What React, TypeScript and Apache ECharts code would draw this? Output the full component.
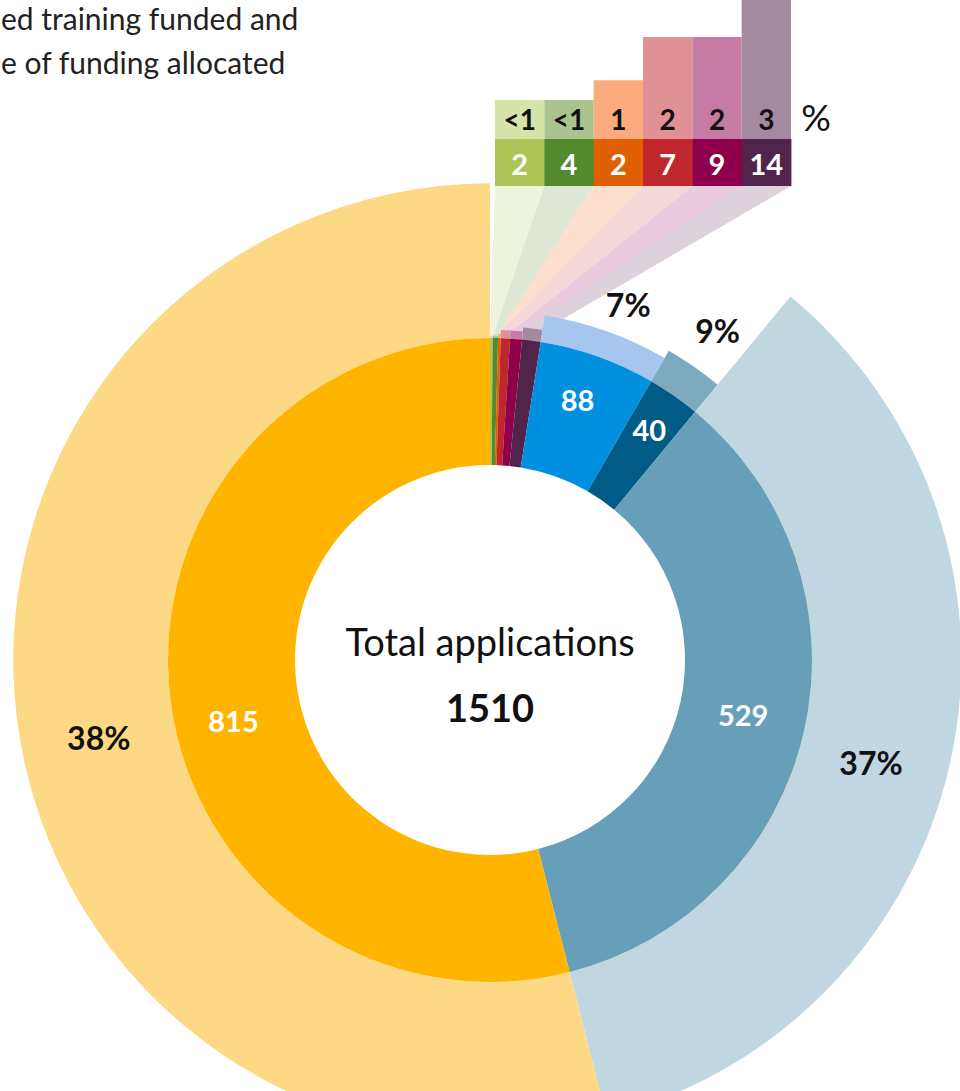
import React, { useEffect, useRef } from "react";
import * as echarts from "echarts";

// ---------- data ----------
const segments = [
  "Group 1", "Group 2", "Group 3", "Group 4", "Group 5", "Group 6",
  "Group 7", "Group 8", "Group 9", "Group 10",
];
const applications = [2, 4, 2, 7, 9, 14, 88, 40, 529, 815];
const fundingPct = [0.5, 0.6, 1.15, 2.0, 2.0, 3.0, 6.6, 8.7, 36.9, 38.2];
const innerColors = [
  "#afc457", "#538a2e", "#e05f00", "#c0272d", "#8e004b", "#51244c",
  "#0090df", "#005c86", "#669fb7", "#ffb500",
];
const outerColors = [
  "#d6e3a9", "#aac48f", "#fbab7d", "#e09194", "#c57ba4", "#a4899f",
  "#a6c6ef", "#7eaabf", "#c0d6e0", "#fdd985",
];
const fanColors = ["#eef3dd", "#dfe6d4", "#fedfcd", "#f3d7d9", "#eacbdd", "#ddd2db"];
const titleLines = ["ed training funded and", "e of funding allocated"];
const centerTitle = "Total applications";
const TABLE_COUNT = 6;

// ---------- layout ----------
const W = 960;
const H = 1091;
const CX = 490;
const CY = 660;
const R_HOLE = 195;
const R_RING = 322;
const RING_PX_PER_PCT = 4.05;
const TABLE_LEFT = 495;
const TABLE_RIGHT = 791;
const COUNT_TOP = 139;
const COUNT_BOTTOM = 186;
const BAR_PX_PER_PCT = 51;
const PCT_CELL_H = 39;
const FONT = "Lato";

const innerShift: Record<number, [number, number]> = {
  6: [0, -14],
  7: [10, -16],
  8: [-2, -3],
  9: [3, 28],
};
const outerShift: Record<number, [number, number]> = {
  6: [25, -37],
  7: [32, -48],
  8: [-9, 15],
  9: [8, 27],
};

export default function App() {
  const ref = useRef<HTMLDivElement>(null);

  useEffect(() => {
    if (!ref.current) return;
    const chart = echarts.init(ref.current, undefined, { renderer: "svg" });

    const total = applications.reduce((a, b) => a + b, 0);
    const cum: number[] = [0];
    applications.forEach((v) => cum.push(cum[cum.length - 1] + v));
    const ang = (k: number) => (cum[k] / total) * Math.PI * 2;
    const pt = (a: number, r: number) => [CX + r * Math.sin(a), CY - r * Math.cos(a)];
    const colW = (TABLE_RIGHT - TABLE_LEFT) / TABLE_COUNT;

    const graphics: any[] = [];
    // fans connecting ring to table
    for (let i = 0; i < TABLE_COUNT; i++) {
      const rOut = R_RING + RING_PX_PER_PCT * fundingPct[i] - 1;
      const a0 = ang(i);
      const a1 = ang(i + 1);
      graphics.push({
        type: "polygon",
        silent: true,
        z: 0,
        shape: {
          points: [
            [TABLE_LEFT + i * colW, COUNT_BOTTOM],
            [TABLE_LEFT + (i + 1) * colW, COUNT_BOTTOM],
            pt(a1, rOut),
            pt(a0, rOut),
          ],
        },
        style: { fill: fanColors[i] },
      });
    }
    // count row
    for (let i = 0; i < TABLE_COUNT; i++) {
      graphics.push({
        type: "rect",
        silent: true,
        z: 1,
        shape: { x: TABLE_LEFT + i * colW, y: COUNT_TOP, width: colW + 0.4, height: COUNT_BOTTOM - COUNT_TOP },
        style: { fill: innerColors[i] },
      });
      graphics.push({
        type: "text",
        silent: true,
        z: 2,
        x: TABLE_LEFT + (i + 0.5) * colW,
        y: (COUNT_TOP + COUNT_BOTTOM) / 2 + 1,
        style: {
          text: String(applications[i]),
          fill: "#ffffff",
          fontFamily: FONT,
          fontWeight: "bold",
          fontSize: 29,
          align: "center",
          verticalAlign: "middle",
        },
      });
    }
    graphics.push({
      type: "text",
      silent: true,
      x: 816,
      y: 116,
      style: { text: "%", fill: "#111", fontFamily: FONT, fontSize: 37, align: "center", verticalAlign: "middle" },
    });
    // title
    graphics.push({
      type: "text",
      silent: true,
      x: 1,
      y: 18,
      style: { text: titleLines[0], fill: "#222", fontFamily: FONT, fontSize: 30, align: "left", verticalAlign: "middle" },
    });
    graphics.push({
      type: "text",
      silent: true,
      x: 1,
      y: 62,
      style: { text: titleLines[1], fill: "#222", fontFamily: FONT, fontSize: 30, align: "left", verticalAlign: "middle" },
    });
    // centre
    graphics.push({
      type: "text",
      silent: true,
      x: CX,
      y: 641,
      style: { text: centerTitle, fill: "#111", fontFamily: FONT, fontSize: 38, align: "center", verticalAlign: "middle" },
    });
    graphics.push({
      type: "text",
      silent: true,
      x: CX,
      y: 707,
      style: {
        text: String(total),
        fill: "#111",
        fontFamily: FONT,
        fontWeight: "bold",
        fontSize: 38,
        align: "center",
        verticalAlign: "middle",
      },
    });

    const innerSeries: any = {
      type: "pie",
      silent: true,
      center: [CX, CY],
      radius: [R_HOLE, R_RING],
      startAngle: 90,
      clockwise: true,
      avoidLabelOverlap: false,
      z: 3,
      label: {
        show: true,
        position: "inside",
        color: "#ffffff",
        fontFamily: FONT,
        fontWeight: "bold",
        fontSize: 29,
        formatter: "{c}",
      },
      labelLine: { show: false },
      labelLayout: (p: any) => {
        const s = innerShift[p.dataIndex] || [0, 0];
        return { dx: s[0], dy: s[1] };
      },
      data: applications.map((v, i) => ({
        name: segments[i],
        value: v,
        itemStyle: { color: innerColors[i] },
        label: { show: i >= TABLE_COUNT },
      })),
    };

    const outerSeries: any[] = fundingPct.map((pct, i) => ({
      type: "pie",
      silent: true,
      center: [CX, CY],
      radius: [R_RING, R_RING + RING_PX_PER_PCT * pct],
      startAngle: 90,
      clockwise: true,
      avoidLabelOverlap: false,
      z: 2,
      label: {
        show: false,
        position: "inside",
        color: "#111111",
        fontFamily: FONT,
        fontWeight: "bold",
        fontSize: 32,
        formatter: () => Math.round(pct) + "%",
      },
      labelLine: { show: false },
      labelLayout: () => {
        const s = outerShift[i] || [0, 0];
        return { dx: s[0], dy: s[1] };
      },
      data: applications.map((v, j) => ({
        name: segments[j],
        value: v,
        itemStyle: j === i ? { color: outerColors[i] } : { color: "#ffffff", opacity: 0 },
        label: { show: j === i && i >= TABLE_COUNT },
      })),
    }));

    const barSeries: any = {
      type: "bar",
      silent: true,
      xAxisIndex: 0,
      yAxisIndex: 0,
      barCategoryGap: "0%",
      barMinHeight: PCT_CELL_H,
      data: fundingPct.slice(0, TABLE_COUNT).map((v, i) => ({
        value: v,
        itemStyle: { color: outerColors[i] },
      })),
      label: {
        show: true,
        position: "insideBottom",
        distance: 6,
        color: "#111111",
        fontFamily: FONT,
        fontWeight: "bold",
        fontSize: 28,
        formatter: (p: any) => (p.value < 1 ? "<1" : String(Math.round(p.value))),
      },
    };

    chart.setOption({
      animation: false,
      textStyle: { fontFamily: FONT },
      grid: {
        left: TABLE_LEFT,
        width: TABLE_RIGHT - TABLE_LEFT,
        top: 0,
        height: COUNT_TOP,
        containLabel: false,
      },
      xAxis: {
        type: "category",
        data: segments.slice(0, TABLE_COUNT),
        show: false,
      },
      yAxis: {
        type: "value",
        min: 0,
        max: COUNT_TOP / BAR_PX_PER_PCT,
        show: false,
      },
      graphic: { elements: graphics },
      series: [barSeries, innerSeries, ...outerSeries],
    });

    return () => chart.dispose();
  }, []);

  return (
    <div
      ref={ref}
      style={{ position: "fixed", left: 0, top: 0, width: W, height: H, background: "#ffffff" }}
    />
  );
}
